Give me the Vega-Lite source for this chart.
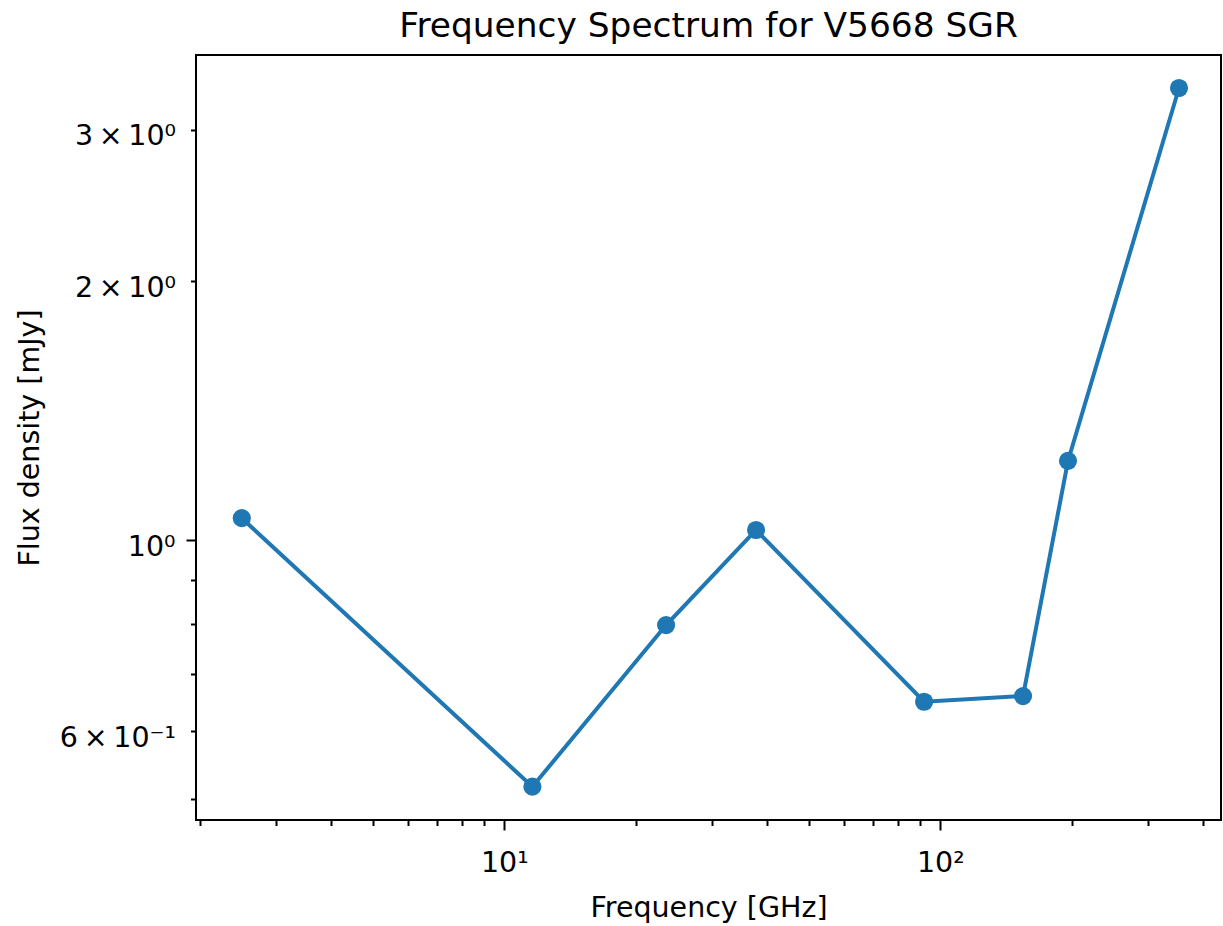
{
  "$schema": "https://vega.github.io/schema/vega-lite/v6.json",
  "width": 1025,
  "height": 765,
  "autosize": {"type": "none"},
  "padding": {"left": 196, "top": 55, "right": 2, "bottom": 106},
  "title": {
    "text": "Frequency Spectrum for V5668 SGR",
    "font": "DejaVu Sans",
    "fontSize": 34.4,
    "fontWeight": "normal",
    "color": "black",
    "anchor": "middle",
    "frame": "group",
    "baseline": "alphabetic",
    "offset": -16
  },
  "data": {
    "values": [
      {"frequency_ghz": 2.5, "flux_mjy": 1.061},
      {"frequency_ghz": 11.6, "flux_mjy": 0.517},
      {"frequency_ghz": 23.5, "flux_mjy": 0.797},
      {"frequency_ghz": 37.8, "flux_mjy": 1.028},
      {"frequency_ghz": 91.8, "flux_mjy": 0.649},
      {"frequency_ghz": 154.8, "flux_mjy": 0.659},
      {"frequency_ghz": 196.3, "flux_mjy": 1.237},
      {"frequency_ghz": 352.8, "flux_mjy": 3.357}
    ]
  },
  "layer": [
    {
      "mark": {"type": "line", "color": "#1f77b4", "strokeWidth": 4},
      "encoding": {
        "x": {
          "field": "frequency_ghz", "type": "quantitative",
          "scale": {"type": "log", "domain": [1.963, 440.4], "nice": false, "zero": false},
          "axis": {
            "orient": "bottom",
            "values": [10, 100],
            "labelExpr": "datum.value == 10 ? '10¹' : '10²'",
            "tickSize": 10,
            "labelPadding": 41,
            "labelBaseline": "alphabetic",
            "labelOverlap": false,
            "labelFlush": false,
            "labelBound": false,
            "title": "Frequency [GHz]",
            "titleX": 512.5,
            "titleY": 96,
            "titleAlign": "center",
            "titleBaseline": "alphabetic"
          }
        },
        "y": {
          "field": "flux_mjy", "type": "quantitative",
          "scale": {"type": "log", "domain": [0.4729, 3.667], "nice": false, "zero": false},
          "axis": {
            "orient": "left",
            "values": [1],
            "labelExpr": "'10⁰'",
            "tickSize": 10,
            "labelPadding": 11,
            "labelBaseline": "alphabetic",
            "labelOffset": 15,
            "labelOverlap": false,
            "labelFlush": false,
            "labelBound": false,
            "title": "Flux density [mJy]",
            "titleX": -158,
            "titleY": 382.5,
            "titleAngle": 270,
            "titleAlign": "center",
            "titleBaseline": "alphabetic"
          }
        }
      }
    },
    {
      "mark": {"type": "point", "filled": true, "size": 330, "opacity": 1, "color": "#1f77b4"},
      "encoding": {
        "x": {
          "field": "frequency_ghz", "type": "quantitative",
          "axis": {
            "orient": "bottom",
            "values": [2, 3, 4, 5, 6, 7, 8, 9, 20, 30, 40, 50, 60, 70, 80, 90, 200, 300, 400],
            "labels": false,
            "tickSize": 5.5,
            "title": null
          }
        },
        "y": {
          "field": "flux_mjy", "type": "quantitative",
          "axis": {
            "orient": "left",
            "values": [0.5, 0.6, 0.7, 0.8, 0.9, 2, 3],
            "labelExpr": "datum.value == 0.6 ? '6\u2009×\u200910⁻¹' : datum.value == 2 ? '2\u2009×\u200910⁰' : datum.value == 3 ? '3\u2009×\u200910⁰' : ''",
            "tickSize": 5.5,
            "labelPadding": 15,
            "labelBaseline": "alphabetic",
            "labelOffset": 15,
            "labelOverlap": false,
            "labelFlush": false,
            "labelBound": false,
            "title": null
          }
        }
      }
    }
  ],
  "resolve": {"axis": {"x": "independent", "y": "independent"}},
  "config": {
    "font": "DejaVu Sans",
    "view": {"stroke": "black", "strokeWidth": 2},
    "axis": {
      "domain": false,
      "grid": false,
      "tickColor": "black",
      "tickWidth": 2,
      "labelFont": "DejaVu Sans",
      "labelFontSize": 28.5,
      "labelColor": "black",
      "titleFont": "DejaVu Sans",
      "titleFontSize": 28.5,
      "titleFontWeight": "normal",
      "titleColor": "black"
    }
  }
}
